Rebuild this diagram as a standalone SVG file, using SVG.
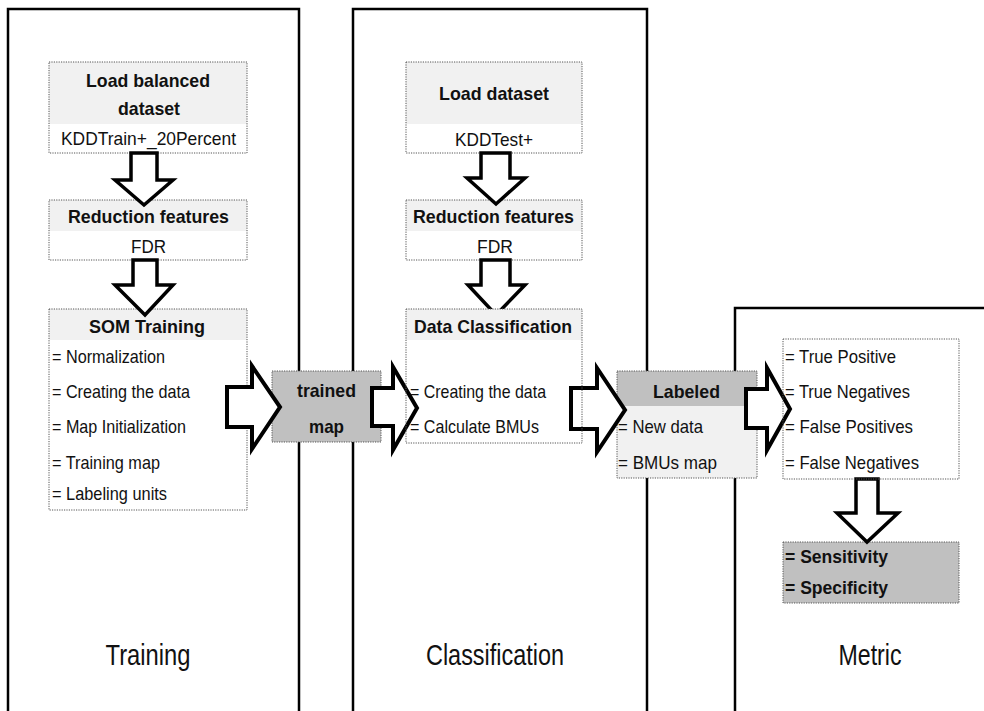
<svg xmlns="http://www.w3.org/2000/svg" width="984" height="711" viewBox="0 0 984 711">
<style>
.panel{fill:none;stroke:#000;stroke-width:2.5}
.box{stroke:#555;stroke-width:1;stroke-dasharray:1.2,1.2}
.hl{fill:#f1f1f1}
.dk{fill:#c0c0c0}
.t{font-family:"Liberation Sans",Arial,sans-serif;font-size:18.5px;fill:#111}
.b{font-weight:bold}
.c{text-anchor:middle}
.big{font-family:"Liberation Sans",Arial,sans-serif;font-size:30px;fill:#111;text-anchor:middle}
.arr{fill:#fff;stroke:#000;stroke-width:4;stroke-linejoin:miter}
.darr{fill:#fff;stroke:#000;stroke-width:3.5;stroke-linejoin:miter}
</style>
<rect width="984" height="711" fill="#fff"/>
<g id="panels">
<rect class="panel" x="8" y="9" width="291" height="720"/>
<rect class="panel" x="353" y="9" width="294" height="720"/>
<rect class="panel" x="735" y="308" width="270" height="420"/>
<text class="big" x="148" y="665" textLength="85" lengthAdjust="spacingAndGlyphs">Training</text>
<text class="big" x="495" y="665" textLength="138" lengthAdjust="spacingAndGlyphs">Classification</text>
<text class="big" x="870" y="665" textLength="63" lengthAdjust="spacingAndGlyphs">Metric</text>
</g>
<g id="load-balanced">
<rect class="hl" x="49" y="62" width="198" height="62"/>
<rect class="box" x="49" y="62" width="198" height="91" fill="none"/>
<text class="t b c" x="148" y="87" textLength="124" lengthAdjust="spacingAndGlyphs">Load balanced</text>
<text class="t b c" x="149" y="115" textLength="62" lengthAdjust="spacingAndGlyphs">dataset</text>
<text class="t c" x="148.5" y="145" textLength="175" lengthAdjust="spacingAndGlyphs">KDDTrain+_20Percent</text>
</g>
<g id="reduction-train">
<rect fill="#fff" x="49" y="200" width="198" height="60"/>
<rect class="hl" x="49" y="200" width="198" height="31"/>
<rect class="box" x="49" y="200" width="198" height="60" fill="none"/>
<text class="t b c" x="148.5" y="223" textLength="161" lengthAdjust="spacingAndGlyphs">Reduction features</text>
<text class="t c" x="148.5" y="253" textLength="35" lengthAdjust="spacingAndGlyphs">FDR</text>
</g>
<g id="som-training">
<rect fill="#fff" x="49" y="309" width="198" height="201"/>
<rect class="hl" x="49" y="309" width="198" height="31"/>
<rect class="box" x="49" y="309" width="198" height="201" fill="none"/>
<text class="t b c" x="147" y="333" textLength="116" lengthAdjust="spacingAndGlyphs">SOM Training</text>
<text class="t" x="52" y="363" textLength="113" lengthAdjust="spacingAndGlyphs">= Normalization</text>
<text class="t" x="52" y="398" textLength="138" lengthAdjust="spacingAndGlyphs">= Creating the data</text>
<text class="t" x="52" y="433" textLength="134" lengthAdjust="spacingAndGlyphs">= Map Initialization</text>
<text class="t" x="52" y="469" textLength="108" lengthAdjust="spacingAndGlyphs">= Training map</text>
<text class="t" x="52" y="500" textLength="115" lengthAdjust="spacingAndGlyphs">= Labeling units</text>
</g>
<g id="trained-map">
<rect class="dk box" x="272" y="371" width="109" height="71"/>
<text class="t b c" x="326.5" y="397" textLength="59" lengthAdjust="spacingAndGlyphs">trained</text>
<text class="t b c" x="326.5" y="433" textLength="35" lengthAdjust="spacingAndGlyphs">map</text>
</g>
<g id="load-dataset">
<rect class="hl" x="406" y="62" width="176" height="62"/>
<rect class="box" x="406" y="62" width="176" height="91" fill="none"/>
<text class="t b c" x="494" y="100" textLength="110" lengthAdjust="spacingAndGlyphs">Load dataset</text>
<text class="t c" x="494" y="146" textLength="78" lengthAdjust="spacingAndGlyphs">KDDTest+</text>
</g>
<g id="reduction-class">
<rect fill="#fff" x="406" y="200" width="176" height="60"/>
<rect class="hl" x="406" y="200" width="176" height="31"/>
<rect class="box" x="406" y="200" width="176" height="60" fill="none"/>
<text class="t b c" x="493.5" y="223" textLength="161" lengthAdjust="spacingAndGlyphs">Reduction features</text>
<text class="t c" x="495" y="253" textLength="36" lengthAdjust="spacingAndGlyphs">FDR</text>
</g>
<g id="labeled">
<rect class="hl" x="617" y="371" width="140" height="107"/>
<rect class="dk" x="617" y="371" width="140" height="35"/>
<rect class="box" x="617" y="371" width="140" height="107" fill="none"/>
<text class="t b c" x="686.5" y="398" textLength="67" lengthAdjust="spacingAndGlyphs">Labeled</text>
<text class="t" x="618" y="433" textLength="85" lengthAdjust="spacingAndGlyphs">= New data</text>
<text class="t" x="618" y="469" textLength="99" lengthAdjust="spacingAndGlyphs">= BMUs map</text>
</g>
<g id="sensitivity">
<rect class="dk box" x="783" y="542" width="176" height="61"/>
<text class="t b" x="785" y="563" textLength="103" lengthAdjust="spacingAndGlyphs">= Sensitivity</text>
<text class="t b" x="785" y="594" textLength="103" lengthAdjust="spacingAndGlyphs">= Specificity</text>
</g>
<g id="connectors">
<polygon class="darr" points="131,153 157,153 157,180 173,180 144,205 115,180 131,180"/>
<polygon class="darr" points="133,260 157,260 157,285 173,285 145,315 115,285 133,285"/>
<polygon class="darr" points="481,153 510,153 510,178 525,178 496,204 467,178 481,178"/>
<polygon class="darr" points="481,260 510,260 510,285 525,285 496,315 468,285 481,285"/>
<polygon class="darr" points="856,479 878,479 878,513 898,513 867,542 837,513 856,513"/>
<polygon class="arr" points="227,387 252,387 252,366 280,407 252,449 252,427 227,427"/>
<polygon class="arr" points="372,388 393,388 393,367 417,408 393,450 393,426 372,426"/>
<polygon class="arr" points="571,388 597,388 597,368 625,410 597,452 597,429 571,429"/>
<polygon class="arr" points="746,389 767,389 767,368 790,409 767,450 767,428 746,428"/>
</g>
<g id="data-classification">
<rect class="hl" x="406" y="309" width="176" height="31"/>
<rect class="box" x="406" y="309" width="176" height="134" fill="none"/>
<text class="t b c" x="493" y="333" textLength="158" lengthAdjust="spacingAndGlyphs">Data Classification</text>
<text class="t" x="410" y="398" textLength="136" lengthAdjust="spacingAndGlyphs">= Creating the data</text>
<text class="t" x="410" y="433" textLength="129" lengthAdjust="spacingAndGlyphs">= Calculate BMUs</text>
</g>
<g id="confusion">
<rect class="box" x="783" y="339" width="176" height="140" fill="none"/>
<text class="t" x="785" y="363" textLength="111" lengthAdjust="spacingAndGlyphs">= True Positive</text>
<text class="t" x="785" y="398" textLength="125" lengthAdjust="spacingAndGlyphs">= True Negatives</text>
<text class="t" x="785" y="433" textLength="128" lengthAdjust="spacingAndGlyphs">= False Positives</text>
<text class="t" x="785" y="469" textLength="134" lengthAdjust="spacingAndGlyphs">= False Negatives</text>
</g>
</svg>
